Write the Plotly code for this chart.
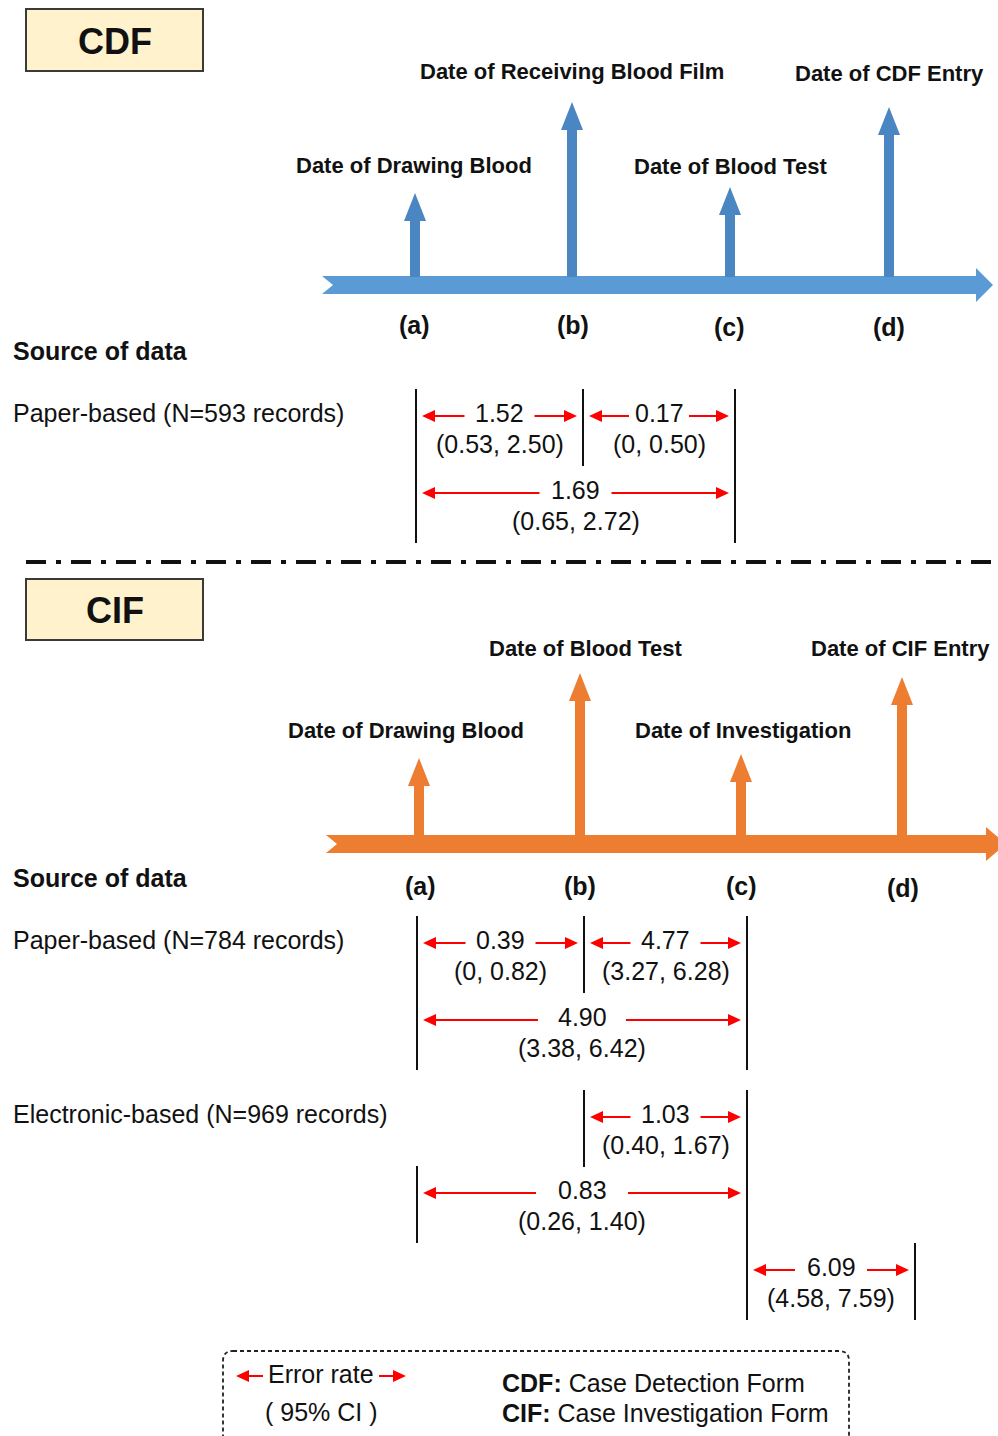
import plotly.graph_objects as go

# ---------------- data ----------------
form_names = ["CDF", "CIF"]
cdf_events = ["Date of Drawing Blood", "Date of Receiving Blood Film", "Date of Blood Test", "Date of CDF Entry"]
cif_events = ["Date of Drawing Blood", "Date of Blood Test", "Date of Investigation", "Date of CIF Entry"]
point_labels = ["(a)", "(b)", "(c)", "(d)"]
source_header = "Source of data"
source_labels = ["Paper-based (N=593 records)", "Paper-based (N=784 records)", "Electronic-based (N=969 records)"]
error_rate = [1.52, 0.17, 1.69, 0.39, 4.77, 4.90, 1.03, 0.83, 6.09]
ci_lower = [0.53, 0, 0.65, 0, 3.27, 3.38, 0.40, 0.26, 4.58]
ci_upper = [2.50, 0.50, 2.72, 0.82, 6.28, 6.42, 1.67, 1.40, 7.59]
legend_abbr = ["CDF:", "CIF:"]
legend_full = ["Case Detection Form", "Case Investigation Form"]
legend_key = ["Error rate", "( 95% CI )"]

# ---------------- layout constants (positions / styles) ----------------
W, H = 998, 1436
FONT = "Liberation Sans, Arial, sans-serif"
BLUE_H, BLUE_V = "#5B9BD5", "#4A86C1"
ORANGE = "#ED7D31"
RED = "#FF0000"
BOX_FILL = "#FFF2CC"
TXT = 25

form_box = [(26, 9, 203, 71), (26, 579, 203, 640)]

timeline = [  # (x_tail, x_notch, y_center, x_headstart, x_tip, color)
    (322, 333, 285, 976, 993, BLUE_H),
    (326, 337, 844, 986, 1006, ORANGE),
]
event_x = [[415, 572, 730, 889], [419, 580, 741, 902]]
event_tip = [[193, 102, 187, 107], [758, 673, 754, 677]]
event_base = [277, 837]
event_color = [BLUE_V, ORANGE]
event_label_xy = [
    [(414, 165), (572, 71), (730, 166), (889, 73)],
    [(406, 730), (585, 648), (743, 730), (900, 648)],
]
point_xy = [
    [(414, 325), (573, 325), (729, 327), (889, 327)],
    [(420, 886), (580, 886), (741, 886), (903, 888)],
]
header_y = [351, 878]
source_y = [413, 940, 1114]

# intervals: (left line x, right line x, number y, half gap)
intervals = [
    (416, 583, 413, 35), (583, 735, 413, 30), (416, 735, 490, 36),
    (417, 584, 940, 35), (584, 747, 940, 35), (417, 747, 1017, 44),
    (584, 747, 1114, 35), (417, 747, 1190, 46), (747, 915, 1267, 36),
]

shapes = []
annotations = []


def text(x, y, s, size, bold=False, anchor="center", color="#111111"):
    annotations.append(dict(
        x=x, y=y, xref="x", yref="y", text=f"<b>{s}</b>" if bold else s,
        showarrow=False, xanchor=anchor, yanchor="middle", borderpad=0,
        font=dict(family=FONT, size=size, color=color)))


def poly(points, color):
    d = "M " + " L ".join(f"{px},{py}" for px, py in points) + " Z"
    shapes.append(dict(type="path", path=d, xref="x", yref="y",
                       fillcolor=color, line=dict(width=0), layer="above"))


def red_arrow(tail, tip, y):
    hl, hw = 13, 6
    sgn = 1 if tip > tail else -1
    shapes.append(dict(type="line", x0=tail, x1=tip - sgn * hl, y0=y, y1=y,
                       xref="x", yref="y", line=dict(color=RED, width=2)))
    poly([(tip, y), (tip - sgn * hl, y - hw), (tip - sgn * hl, y + hw)], RED)


def vline(x, y0, y1):
    shapes.append(dict(type="line", x0=x, x1=x, y0=y0, y1=y1, xref="x", yref="y",
                       line=dict(color="#111111", width=2)))


def fmt(v):
    return "0" if v == 0 else f"{v:.2f}"


# form boxes
for (x0, y0, x1, y1), name in zip(form_box, form_names):
    shapes.append(dict(type="rect", x0=x0, y0=y0, x1=x1, y1=y1, xref="x", yref="y",
                       fillcolor=BOX_FILL, line=dict(color="#3a3a3a", width=2)))
    text((x0 + x1) / 2, (y0 + y1) / 2 + 1, name, 36, bold=True)

# timelines + event arrows
events_all = [cdf_events, cif_events]
for k, (xt, xn, yc, xh, xtip, col) in enumerate(timeline):
    hs, hh = 9, 17
    poly([(xt, yc - hs), (xh, yc - hs), (xh, yc - hh), (xtip, yc), (xh, yc + hh),
          (xh, yc + hs), (xt, yc + hs), (xn, yc)], col)
    for i, ev in enumerate(events_all[k]):
        x, tip, base = event_x[k][i], event_tip[k][i], event_base[k]
        sw, hw, hl = 5, 11, 28
        poly([(x - sw, base), (x - sw, tip + hl), (x - hw, tip + hl), (x, tip),
              (x + hw, tip + hl), (x + sw, tip + hl), (x + sw, base)], event_color[k])
        lx, ly = event_label_xy[k][i]
        text(lx, ly, ev, 22, bold=True)
        px, py = point_xy[k][i]
        text(px, py, point_labels[i], 25, bold=True)
    text(12, header_y[k], source_header, TXT, bold=True, anchor="left")

for s, y in zip(source_labels, source_y):
    text(12, y, s, TXT, anchor="left")

# separator
shapes.append(dict(type="line", x0=26, x1=998, y0=562, y1=562, xref="x", yref="y",
                   line=dict(color="#111111", width=4, dash="20px,10px,5px,10px")))

# intervals
for (xl, xr, yn, gap), er, lo, hi in zip(intervals, error_rate, ci_lower, ci_upper):
    vline(xl, yn - 24, yn + 53)
    vline(xr, yn - 24, yn + 53)
    xc = (xl + xr) / 2
    red_arrow(xc - gap, xl + 6, yn + 3)
    red_arrow(xc + gap, xr - 6, yn + 3)
    text(xc, yn, f"{er:.2f}", TXT)
    text(xc, yn + 31, f"({fmt(lo)}, {fmt(hi)})", TXT)

# legend box
bx0, by0, bx1, by1, r = 223, 1351, 849, 1448, 10
path = (f"M {bx0 + r},{by0} L {bx1 - r},{by0} Q {bx1},{by0} {bx1},{by0 + r} "
        f"L {bx1},{by1 - r} Q {bx1},{by1} {bx1 - r},{by1} L {bx0 + r},{by1} "
        f"Q {bx0},{by1} {bx0},{by1 - r} L {bx0},{by0 + r} Q {bx0},{by0} {bx0 + r},{by0} Z")
shapes.append(dict(type="path", path=path, xref="x", yref="y",
                   line=dict(color="#222222", width=1.8, dash="4px,3px")))
red_arrow(263, 236, 1376)
red_arrow(379, 406, 1376)
text(321, 1374, legend_key[0], TXT)
text(321, 1412, legend_key[1], TXT)
for a, f, y in zip(legend_abbr, legend_full, [1383, 1413]):
    text(501, y, f"<b>{a}</b> {f}", TXT, anchor="left")

fig = go.Figure()
fig.update_layout(
    width=W, height=H, margin=dict(l=0, r=0, t=0, b=0),
    paper_bgcolor="white", plot_bgcolor="white", showlegend=False,
    xaxis=dict(range=[0, W], visible=False, fixedrange=True),
    yaxis=dict(range=[H, 0], visible=False, fixedrange=True),
    shapes=shapes, annotations=annotations,
)
fig.write_html("out.html", config={"displayModeBar": False},
               post_script="document.body.style.margin='0';document.body.style.overflow='hidden';")
